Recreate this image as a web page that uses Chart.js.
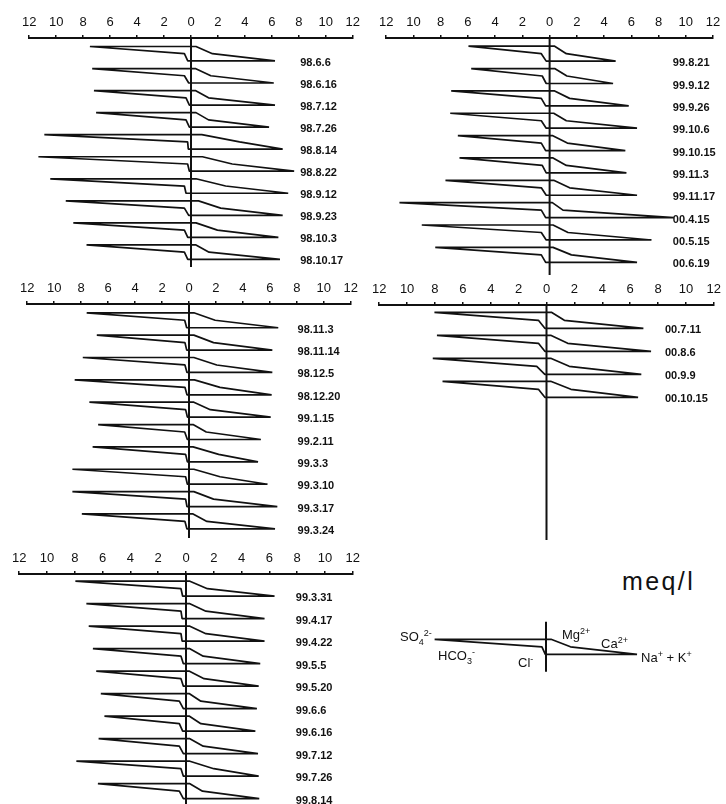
<!DOCTYPE html>
<html>
<head>
<meta charset="utf-8">
<script src="https://cdn.jsdelivr.net/npm/chart.js@4.4.1/dist/chart.umd.min.js"></script>
<style>
  body { margin: 0; background: #fff; width: 726px; height: 804px; position: relative; overflow: hidden;
         font-family: "Liberation Sans", Arial, sans-serif; color: #111; }
  canvas { position: absolute; }
  .ion { position: absolute; font-size: 13px; white-space: nowrap; line-height: 1; }
  .ion sup, .ion sub { font-size: 9px; }
  #unit { position: absolute; left: 622px; top: 569px; font-size: 25px; letter-spacing: 2.4px; line-height: 1; }
</style>
</head>
<body>
<canvas id="p1"></canvas>
<canvas id="p2"></canvas>
<canvas id="p3"></canvas>
<canvas id="p4"></canvas>
<canvas id="p5"></canvas>
<canvas id="lg"></canvas>

<div id="unit">meq/l</div>
<div class="ion" style="left:400px;top:629px">SO<sub>4</sub><sup>2-</sup></div>
<div class="ion" style="left:438px;top:648px">HCO<sub>3</sub><sup>-</sup></div>
<div class="ion" style="left:518px;top:655px">Cl<sup>-</sup></div>
<div class="ion" style="left:562px;top:627px">Mg<sup>2+</sup></div>
<div class="ion" style="left:601px;top:636px">Ca<sup>2+</sup></div>
<div class="ion" style="left:641px;top:650px">Na<sup>+</sup> + K<sup>+</sup></div>

<script>
'use strict';

// sampling dates, in time order (panels: top-left, mid-left, bottom-left, top-right, mid-right)
var dates = ['98.6.6', '98.6.16', '98.7.12', '98.7.26', '98.8.14', '98.8.22', '98.9.12', '98.9.23', '98.10.3', '98.10.17',
             '98.11.3', '98.11.14', '98.12.5', '98.12.20', '99.1.15', '99.2.11', '99.3.3', '99.3.10', '99.3.17', '99.3.24',
             '99.3.31', '99.4.17', '99.4.22', '99.5.5', '99.5.20', '99.6.6', '99.6.16', '99.7.12', '99.7.26', '99.8.14',
             '99.8.21', '99.9.12', '99.9.26', '99.10.6', '99.10.15', '99.11.3', '99.11.17', '00.4.15', '00.5.15', '00.6.19',
             '00.7.11', '00.8.6', '00.9.9', '00.10.15'];

// anions (meq/l), drawn to the left
var so4  = [7.5, 7.33, 7.2, 7.04, 10.88, 11.32, 10.44, 9.29, 8.73, 7.75,
            7.59, 6.84, 7.88, 8.48, 7.39, 6.74, 7.15, 8.65, 8.65, 7.95,
            7.96, 7.17, 7.0, 6.7, 6.46, 6.13, 5.87, 6.29, 7.89, 6.34,
            5.96, 5.76, 7.23, 7.3, 6.74, 6.62, 7.65, 11.03, 9.39, 8.4,
            8.04, 7.86, 8.16, 7.46];
var hco3 = [0.49, 0.49, 0.37, 0.37, 0.25, 0.25, 0.49, 0.49, 0.49, 0.49,
            0.32, 0.3, 0.3, 0.3, 0.25, 0.32, 0.25, 0.25, 0.25, 0.3,
            0.36, 0.36, 0.36, 0.36, 0.36, 0.48, 0.48, 0.48, 0.36, 0.48,
            0.61, 0.54, 0.61, 0.61, 0.61, 0.54, 0.61, 0.61, 0.61, 0.61,
            0.58, 0.58, 0.7, 0.58];
var cl   = [0.24, 0.17, 0.12, 0.12, 0.2, 0.12, 0.37, 0.17, 0.24, 0.24,
            0.17, 0.17, 0.15, 0.15, 0.12, 0.12, 0.12, 0.12, 0.15, 0.15,
            0.24, 0.28, 0.28, 0.19, 0.19, 0.19, 0.24, 0.19, 0.19, 0.19,
            0.25, 0.25, 0.29, 0.25, 0.29, 0.25, 0.25, 0.29, 0.25, 0.29,
            0.12, 0.12, 0.12, 0.12];
// cations (meq/l), drawn to the right
var mg   = [0.37, 0.32, 0.32, 0.37, 0.8, 0.85, 0.37, 0.56, 0.37, 0.37,
            0.36, 0.36, 0.36, 0.4, 0.36, 0.3, 0.3, 0.36, 0.36, 0.3,
            0.28, 0.28, 0.28, 0.28, 0.25, 0.25, 0.25, 0.28, 0.28, 0.28,
            0.37, 0.37, 0.37, 0.3, 0.2, 0.25, 0.3, 0.2, 0.25, 0.25,
            0.35, 0.3, 0.3, 0.3];
var ca   = [1.59, 1.47, 1.3, 1.3, 3.6, 3.06, 2.57, 2.2, 1.96, 1.34,
            1.94, 1.82, 2.06, 2.3, 1.58, 1.28, 2.2, 2.3, 1.82, 1.33,
            1.54, 1.43, 1.43, 1.24, 1.3, 1.07, 1.07, 1.24, 2.0, 1.19,
            1.23, 1.27, 1.47, 1.23, 1.3, 1.23, 1.47, 0.98, 1.35, 1.6,
            1.28, 1.52, 1.63, 1.75];
var nak  = [6.23, 6.14, 6.23, 5.79, 6.8, 7.65, 7.21, 6.8, 6.48, 6.6,
            6.62, 6.18, 6.18, 6.13, 6.06, 5.33, 5.12, 5.82, 6.55, 6.38,
            6.37, 5.65, 5.65, 5.34, 5.23, 5.1, 4.99, 5.18, 5.23, 5.27,
            4.85, 4.66, 5.81, 6.42, 5.56, 5.64, 6.42, 9.12, 7.48, 6.42,
            6.95, 7.5, 6.8, 6.57];

// key diagram: SO4, HCO3, Cl, Mg, Ca, Na+K
var keySample = [8.2, 0.3, 0.05, 0.37, 1.8, 6.7];

var ticks = [-12, -10, -8, -6, -4, -2, 0, 2, 4, 6, 8, 10, 12];

var INK = '#111';
var AXIS_H = 30;

// where each panel sits on the page (px)
var panels = [
  {id: 'p1', from: 0,  n: 10, axisY: 37.5,  xL: 27,  xR: 355, top0: 8.5, step: 22.1, gh: 14.5, end: 229.5, labX: 8.1},
  {id: 'p3', from: 10, n: 10, axisY: 303.5, xL: 25,  xR: 353, top0: 8.8, step: 22.4, gh: 15,   end: 234.5, labX: 8.05},
  {id: 'p5', from: 20, n: 10, axisY: 573.5, xL: 17,  xR: 355, top0: 7.2, step: 22.5, gh: 15,   end: 231, labX: 7.9},
  {id: 'p2', from: 30, n: 10, axisY: 37.5,  xL: 384, xR: 713, top0: 8.2, step: 22.4, gh: 15,   end: 237.5, labX: 9.05, padR: 13},
  {id: 'p4', from: 40, n: 4,  axisY: 305,   xL: 377, xR: 718, top0: 7.3, step: 23,   gh: 16,   end: 235, labX: 8.5, padR: 8}
];

function glyph(v, top, gh) {
  var mid = top + gh / 2, bot = top + gh;
  return [
    {x: -v[0], y: top}, {x: v[3], y: top}, {x: v[4], y: mid}, {x: v[5], y: bot},
    {x: -v[2], y: bot}, {x: -v[1], y: mid}, {x: -v[0], y: top}
  ];
}

function lineSet(points, w) {
  return {data: points, showLine: true, pointRadius: 0, borderColor: INK, borderWidth: w,
          borderJoinStyle: 'bevel', tension: 0, fill: false, clip: false};
}

var dateLabels = {
  id: 'dateLabels',
  afterDatasetsDraw: function (chart) {
    var o = chart.options.plugins.dateLabels;
    if (!o || !o.text) return;
    var c = chart.ctx, xs = chart.scales.x, ys = chart.scales.y;
    c.save();
    c.font = 'bold 11px "Liberation Sans", Arial, sans-serif';
    c.fillStyle = INK;
    c.textAlign = 'left';
    c.textBaseline = 'middle';
    o.text.forEach(function (t, i) {
      c.fillText(t, xs.getPixelForValue(o.x), ys.getPixelForValue(o.y[i]) + 2);
    });
    c.restore();
  }
};

function draw(id, left, top, width, height, pad, showAxis, yMax, datasets, labels) {
  var cv = document.getElementById(id);
  cv.width = width;
  cv.height = height;
  cv.style.left = left + 'px';
  cv.style.top = top + 'px';
  return new Chart(cv.getContext('2d'), {
    type: 'scatter',
    data: {datasets: datasets},
    plugins: [dateLabels],
    options: {
      responsive: false,
      animation: false,
      devicePixelRatio: 1,
      layout: {padding: pad},
      plugins: {legend: {display: false}, tooltip: {enabled: false}, dateLabels: labels || {}},
      scales: {
        x: {
          type: 'linear', position: 'top', min: -12, max: 12, display: showAxis,
          afterBuildTicks: function (s) { s.ticks = ticks.map(function (v) { return {value: v}; }); },
          afterFit: function (s) { s.height = showAxis ? AXIS_H : 0; },
          ticks: {
            color: INK, padding: 5, maxRotation: 0, autoSkip: false,
            font: {family: '"Liberation Sans", Arial, sans-serif', size: 13},
            callback: function (v) { return Math.abs(v); }
          },
          grid: {drawOnChartArea: false, drawTicks: true, tickLength: 3, color: INK, lineWidth: 1.5},
          border: {display: true, color: INK, width: 2}
        },
        y: {type: 'linear', min: 0, max: yMax, reverse: true, display: false}
      }
    }
  });
}

panels.forEach(function (p) {
  var padL = 10, padR = p.padR || 10;
  var sets = [], bots = [], names = [];
  for (var k = 0; k < p.n; k++) {
    var i = p.from + k;
    var top = p.top0 + k * p.step;
    sets.push(lineSet(glyph([so4[i], hco3[i], cl[i], mg[i], ca[i], nak[i]], top, p.gh), 1.7));
    bots.push(top + p.gh);
    names.push(dates[i]);
  }
  sets.push(lineSet([{x: 0, y: 0}, {x: 0, y: p.end}], 2));
  draw(p.id, p.xL - padL, p.axisY - AXIS_H, (p.xR - p.xL) + padL + padR, AXIS_H + p.end + 2,
       {left: padL, right: padR, top: 0, bottom: 2}, true, p.end, sets,
       {text: names, x: p.labX, y: bots});
});

// key glyph (same meq/l scale, no axis)
(function () {
  var zero = 545.7, unit = 13.6, top = 615, h = 65;
  var sets = [
    lineSet(glyph(keySample, 24.3, 15), 1.7),
    lineSet([{x: 0, y: 6.7}, {x: 0, y: 56.7}], 2)
  ];
  draw('lg', zero - 12 * unit, top, 24 * unit, h, 0, false, h, sets, null);
})();
</script>
</body>
</html>
